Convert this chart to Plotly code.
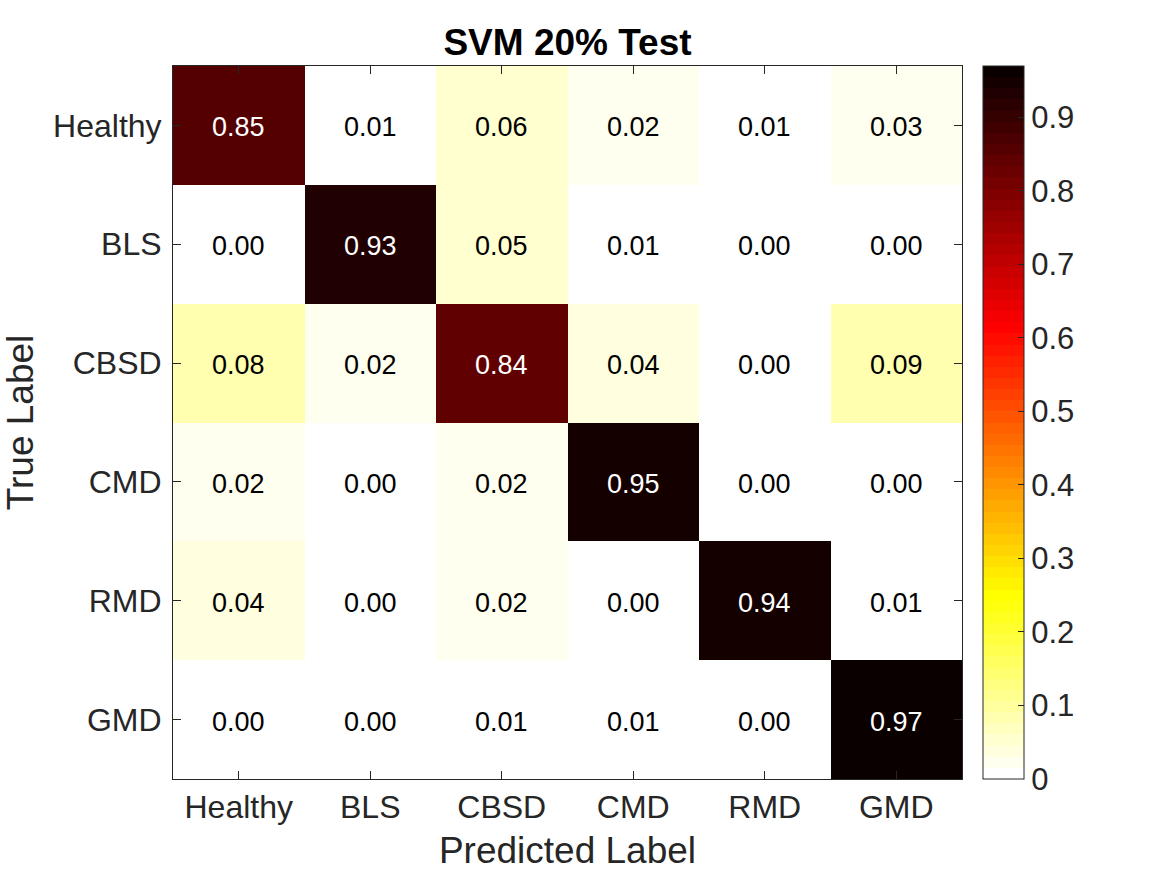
import plotly.graph_objects as go

labels = ["Healthy", "BLS", "CBSD", "CMD", "RMD", "GMD"]
values = [
    [0.85, 0.01, 0.06, 0.02, 0.01, 0.03],
    [0.00, 0.93, 0.05, 0.01, 0.00, 0.00],
    [0.08, 0.02, 0.84, 0.04, 0.00, 0.09],
    [0.02, 0.00, 0.02, 0.95, 0.00, 0.00],
    [0.04, 0.00, 0.02, 0.00, 0.94, 0.01],
    [0.00, 0.00, 0.01, 0.01, 0.00, 0.97],
]
cbar_ticks = [0, 0.1, 0.2, 0.3, 0.4, 0.5, 0.6, 0.7, 0.8, 0.9]
zmax = 0.97

# flipud(hot(64)) as a stepped colorscale
m = 64
n = 24
hot = []
for k in range(1, m + 1):
    r = k / n if k <= n else 1.0
    g = 0.0 if k <= n else ((k - n) / n if k <= 2 * n else 1.0)
    b = 0.0 if k <= 2 * n else (k - 2 * n) / (m - 2 * n)
    hot.append((r, g, b))
cmap = hot[::-1]
colorscale = []
for i, (r, g, b) in enumerate(cmap):
    c = "rgb(%d,%d,%d)" % (round(r * 255), round(g * 255), round(b * 255))
    colorscale.append([i / m, c])
    colorscale.append([(i + 1) / m, c])

FONT = "Liberation Sans, Arial"

fig = go.Figure()
fig.add_trace(go.Heatmap(
    z=values, x=labels, y=labels, zmin=0, zmax=zmax,
    colorscale=colorscale, xgap=0, ygap=0, hoverinfo="skip",
    colorbar=dict(
        x=1.0266, xanchor="left", xpad=0, y=0.5, yanchor="middle", ypad=0,
        len=1, lenmode="fraction", thickness=41,
        outlinewidth=1, outlinecolor="#262626",
        tickvals=cbar_ticks, ticktext=[("%g" % t) for t in cbar_ticks],
        ticks="inside", ticklen=6, tickcolor="#262626",
        tickfont=dict(family=FONT, size=31, color="#262626"),
    ),
))

annotations = []
for i, row in enumerate(values):
    for j, v in enumerate(row):
        annotations.append(dict(
            x=labels[j], y=labels[i], xref="x", yref="y", text="%.2f" % v,
            showarrow=False, yshift=-2,
            font=dict(family=FONT, size=27, color="white" if v > 0.5 else "black"),
        ))

axis_common = dict(
    showline=True, mirror="ticks", linecolor="#262626", linewidth=1,
    ticks="inside", ticklen=8, tickcolor="#262626", showgrid=False, zeroline=False,
    tickfont=dict(family=FONT, size=32, color="#262626"),
)
fig.update_xaxes(**axis_common, title=dict(text="Predicted Label", standoff=12,
                 font=dict(family=FONT, size=37, color="#262626")))
fig.update_yaxes(**axis_common, autorange="reversed", ticklabelstandoff=4,
                 title=dict(text="True Label", standoff=12,
                 font=dict(family=FONT, size=37, color="#262626")))

fig.update_layout(
    width=1167, height=875, paper_bgcolor="white", plot_bgcolor="white",
    margin=dict(l=173, r=205, t=66, b=96),
    title=dict(text="<b>SVM 20% Test</b>", x=(173 + 962) / 2 / 1167, xanchor="center",
               y=1 - 42 / 875, yanchor="middle",
               font=dict(family=FONT, size=37, color="black")),
    annotations=annotations,
    showlegend=False,
)
fig.write_html("out.html")
